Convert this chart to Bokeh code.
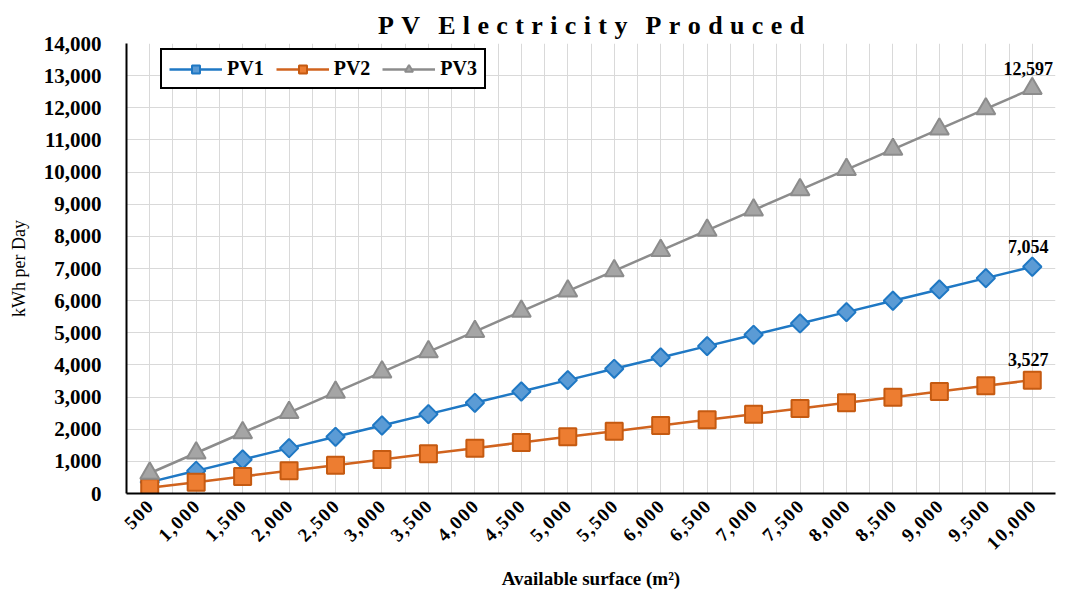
import math
from bokeh.plotting import figure
from bokeh.models import (Range1d, FixedTicker, NumeralTickFormatter, Legend, LegendItem, Label)
from bokeh.embed import file_html
from bokeh.resources import INLINE

surface = [500, 1000, 1500, 2000, 2500, 3000, 3500, 4000, 4500, 5000,
           5500, 6000, 6500, 7000, 7500, 8000, 8500, 9000, 9500, 10000]
pv1 = [353, 705, 1058, 1411, 1764, 2116, 2469, 2822, 3174, 3527,
       3880, 4232, 4585, 4938, 5291, 5643, 5996, 6349, 6701, 7054]
pv2 = [176, 353, 529, 705, 882, 1058, 1234, 1411, 1587, 1764,
       1940, 2116, 2293, 2469, 2645, 2822, 2998, 3174, 3351, 3527]
pv3 = [630, 1260, 1890, 2519, 3149, 3779, 4409, 5039, 5669, 6299,
       6928, 7558, 8188, 8818, 9448, 10078, 10707, 11337, 11967, 12597]
y_ticks = list(range(0, 14001, 1000))
title_text = "PV Electricity Produced"
x_title = "Available surface (m\u00b2)"

SERIF = "Liberation Serif"
W, H = 1057, 591
FL, FT, FB, FR = 126, 43, 495, 1055  # frame edges in canvas pixels

p = figure(width=W, height=H, output_backend="svg", toolbar_location=None,
           x_range=Range1d(250, 10250), y_range=Range1d(0, 14000),
           min_border_left=FL, min_border_right=W - FR, min_border_top=FT,
           min_border_bottom=H - FB)
p.outline_line_color = None
p.background_fill_color = "white"

# title (letter-spaced like the original)
p.title.text = "\u2002\u2009".join("\u2009\u200a".join(w) for w in title_text.split(" "))
p.title.text_font = SERIF
p.title.text_font_style = "bold"
p.title.text_font_size = "26px"
p.title.text_color = "black"
p.title.align = "center"
p.title.standoff = 8

# grid
p.xaxis.ticker = FixedTicker(ticks=surface, minor_ticks=[s - 250 for s in surface] + [10250])
p.yaxis.ticker = FixedTicker(ticks=y_ticks)
p.xgrid.grid_line_color = "#D9D9D9"
p.xgrid.minor_grid_line_color = "#D9D9D9"
p.ygrid.grid_line_color = "#D9D9D9"

# axes
for ax in (p.xaxis, p.yaxis):
    ax.axis_line_color = "black"
    ax.axis_line_width = 2
    ax.major_tick_line_color = None
    ax.minor_tick_line_color = None
    ax.formatter = NumeralTickFormatter(format="0,0")
    ax.major_label_text_font = SERIF
    ax.major_label_text_font_style = "bold"
    ax.major_label_text_color = "black"

p.yaxis.major_label_text_font_size = "21px"
p.yaxis.major_label_standoff = 19
p.yaxis.axis_label = "kWh per Day"
p.yaxis.axis_label_text_font = SERIF
p.yaxis.axis_label_text_font_style = "normal"
p.yaxis.axis_label_text_font_size = "18px"
p.yaxis.axis_label_text_color = "black"
p.yaxis.axis_label_standoff = 12

p.xaxis.major_label_overrides = {s: "\u200a".join(f"{s:,}") for s in surface}
p.xaxis.major_label_orientation = math.pi / 4
p.xaxis.major_label_text_font_size = "19px"
p.xaxis.major_label_standoff = 4
p.xaxis.axis_label = x_title
p.xaxis.axis_label_text_font = SERIF
p.xaxis.axis_label_text_font_style = "bold"
p.xaxis.axis_label_text_font_size = "19px"
p.xaxis.axis_label_text_color = "black"
p.xaxis.axis_label_standoff = 4

# series
r1 = p.line(surface, pv1, line_color="#1F78C4", line_width=2.5)
m1 = p.scatter(surface, pv1, marker="square", size=13, angle=math.pi / 4,
               fill_color="#5B9BD5", line_color="#1F78C4", line_width=2)
r2 = p.line(surface, pv2, line_color="#D0631E", line_width=2.5)
m2 = p.scatter(surface, pv2, marker="square", size=17, fill_color="#ED7D31",
               line_color="#C55A11", line_width=2)
r3 = p.line(surface, pv3, line_color="#8C8C8C", line_width=2.5)
m3 = p.scatter(surface, pv3, marker="triangle", size=19, fill_color="#A5A5A5",
               line_color="#8C8C8C", line_width=2)

legend = Legend(items=[LegendItem(label="PV1", renderers=[r1, m1]),
                       LegendItem(label="PV2", renderers=[r2, m2]),
                       LegendItem(label="PV3", renderers=[r3, m3])],
                orientation="horizontal", location=(34, 404))
legend.label_text_font = SERIF
legend.label_text_font_style = "bold"
legend.label_text_font_size = "20px"
legend.label_text_color = "black"
legend.border_line_color = "black"
legend.border_line_width = 2
legend.border_line_alpha = 1
legend.background_fill_alpha = 1
legend.glyph_width = 53
legend.glyph_height = 20
legend.spacing = 12
legend.padding = 7
legend.margin = 0
legend.label_standoff = 5
p.add_layout(legend, "center")

# data labels on the last points
for series in (pv1, pv2, pv3):
    p.add_layout(Label(x=surface[-1], y=series[-1], text=f"{series[-1]:,}",
                       text_font=SERIF, text_font_style="bold", text_font_size="18px",
                       text_color="black", text_align="center", text_baseline="bottom",
                       y_offset=14, x_offset=-4))

open("out.html", "w").write(file_html(p, INLINE))
